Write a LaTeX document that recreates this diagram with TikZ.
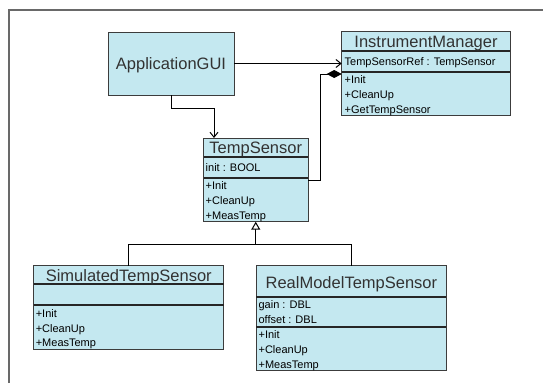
\documentclass[tikz,border=0pt]{standalone}
\usepackage{fontspec}
\setmainfont{Liberation Sans}
\usetikzlibrary{arrows.meta,calc}
\definecolor{classfill}{RGB}{196,232,240}
\definecolor{classline}{RGB}{60,60,60}
\definecolor{titleink}{RGB}{50,50,50}
\definecolor{frameink}{RGB}{105,105,105}
\begin{document}
\begin{tikzpicture}[x=1pt,y=-1pt,
  classbox/.style={draw=classline, fill=classfill, line width=1pt, inner sep=0pt, outer sep=0pt, anchor=north west},
  divider/.style={line width=2pt, black!85},
  titletext/.style={font=\fontsize{16.5}{18}\selectfont, text=titleink, inner sep=0pt, anchor=base},
  rowtext/.style={font=\fontsize{11}{13}\selectfont, inner sep=0pt, anchor=base west},
  link/.style={line width=1pt, black},
  uses/.style={link, -{Straight Barb[length=5pt,width=8pt]}},
  owns/.style={link, -{Diamond[length=15pt,width=8pt]}},
  inherits/.style={link, -{Triangle[open,length=8pt,width=9pt,fill=white]}}]

\useasboundingbox (0,0) rectangle (543,383);
\fill[white] (0,0) rectangle (543,383);
\draw[frameink, line width=1.3pt] (9,383) -- (9,10) -- (543,10);

% ApplicationGUI
\node[classbox, minimum width=126, minimum height=63] (gui) at (108,32) {};
\node[titletext] (guiname) at (171,69) {ApplicationGUI};

% InstrumentManager
\node[classbox, minimum width=168.7, minimum height=84] (im) at (341.7,31.7) {};
\draw[divider] (im.west |- 0,51) -- (im.east |- 0,51);
\draw[divider] (im.west |- 0,71.5) -- (im.east |- 0,71.5);
\node[titletext] (imname) at (426,47.5) {InstrumentManager};
\node[rowtext] (imattr) at (344.5,65.3) {TempSensorRef : TempSensor};
\node[rowtext] (iminit) at (344.5,83.3) {+Init};
\node[rowtext] (imclean) at (344.5,98.3) {+CleanUp};
\node[rowtext] (imget) at (344.5,113.3) {+GetTempSensor};

% TempSensor
\node[classbox, minimum width=104.5, minimum height=83.7] (ts) at (203.5,138) {};
\draw[divider] (ts.west |- 0,156.7) -- (ts.east |- 0,156.7);
\draw[divider] (ts.west |- 0,178.3) -- (ts.east |- 0,178.3);
\node[titletext] (tsname) at (255.75,153) {TempSensor};
\node[rowtext] (tsattr) at (205.5,171.3) {init : BOOL};
\node[rowtext] (tsinit) at (205.5,189.3) {+Init};
\node[rowtext] (tsclean) at (205.5,204.3) {+CleanUp};
\node[rowtext] (tsmeas) at (205.5,219.3) {+MeasTemp};

% SimulatedTempSensor
\node[classbox, minimum width=190.3, minimum height=83.6] (sim) at (33.6,265.7) {};
\draw[divider] (sim.west |- 0,284) -- (sim.east |- 0,284);
\draw[divider] (sim.west |- 0,305) -- (sim.east |- 0,305);
\node[titletext] (simname) at (128.75,281) {SimulatedTempSensor};
\node[rowtext] (siminit) at (35.6,317.3) {+Init};
\node[rowtext] (simclean) at (35.6,332) {+CleanUp};
\node[rowtext] (simmeas) at (35.6,346.7) {+MeasTemp};

% RealModelTempSensor
\node[classbox, minimum width=190, minimum height=104.3] (real) at (256.4,265.7) {};
\draw[divider] (real.west |- 0,296.7) -- (real.east |- 0,296.7);
\draw[divider] (real.west |- 0,326.7) -- (real.east |- 0,326.7);
\node[titletext] (realname) at (351.4,288.3) {RealModelTempSensor};
\node[rowtext] (realgain) at (258.4,308.3) {gain : DBL};
\node[rowtext] (realoffset) at (258.4,323.3) {offset : DBL};
\node[rowtext] (realinit) at (258.4,338.3) {+Init};
\node[rowtext] (realclean) at (258.4,353.3) {+CleanUp};
\node[rowtext] (realmeas) at (258.4,368) {+MeasTemp};

% associations
\draw[uses] (gui.east) -- (gui.east -| im.west);
\coordinate (guibend) at ($(gui.south)+(0,13.7)$);
\coordinate (tsentry) at ($(ts.north west)+(10.5,0)$);
\draw[uses] (gui.south) -- (guibend) -| (tsentry);

% composition
\coordinate (tsport) at ($(ts.north east)+(0,42)$);
\coordinate (improt) at ($(im.north west)+(0,42.3)$);
\draw[owns] (tsport) -- ++(12,0) |- (improt);

% generalization
\coordinate (bus) at ($(ts.south)+(0,22.6)$);
\draw[link] (sim.north) |- (bus) -| (real.north);
\draw[inherits] (bus) -- (ts.south);
\end{tikzpicture}
\end{document}
